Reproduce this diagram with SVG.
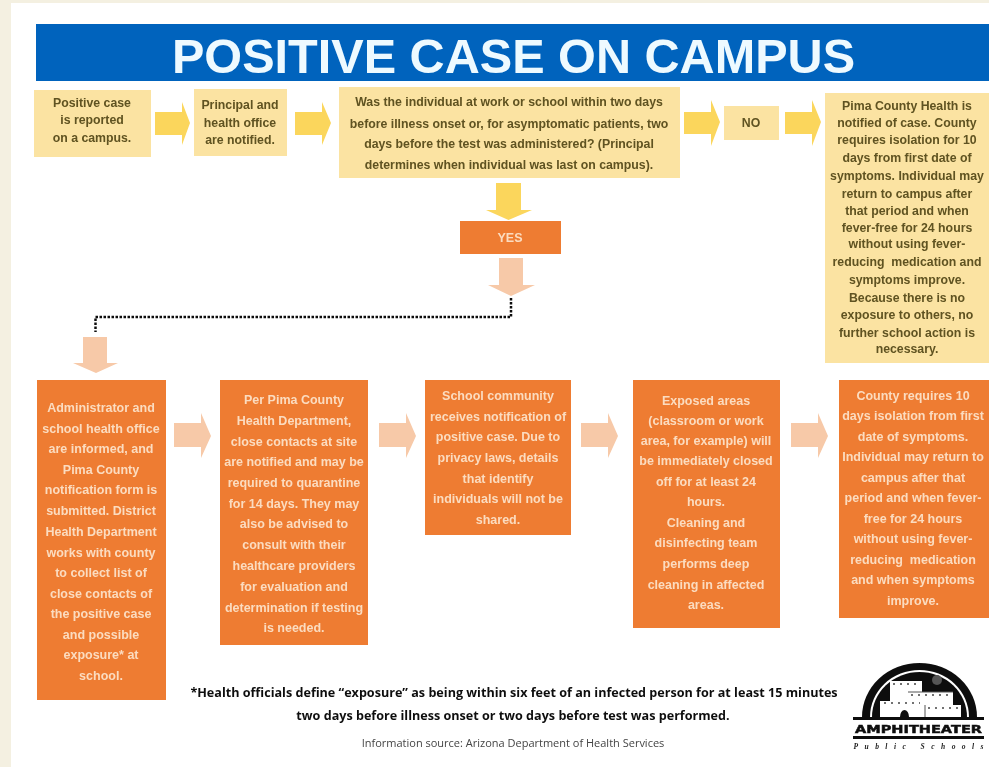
<svg xmlns="http://www.w3.org/2000/svg" width="989" height="767" viewBox="0 0 989 767">
<style>
text{font-family:"Liberation Sans",Arial,sans-serif;font-weight:700;text-anchor:middle}
.y{fill:#fbe3a2}.o{fill:#ee7b30}
.yt{font-size:12.3px;fill:#5f5220}
.ot{font-size:12.5px;fill:#fbdcc0}
.ay{fill:#fbd65c}.ap{fill:#f7c9a8}
.link{fill:none;stroke:#111;stroke-width:2.5;stroke-dasharray:2.5 1.5}
.w{fill:#fff}.k{fill:#111}
</style>
<defs><filter id="soft" filterUnits="userSpaceOnUse" x="-10" y="-10" width="1020" height="790"><feGaussianBlur stdDeviation="0.5"/></filter></defs>
<rect width="989" height="767" fill="#f4f0e1"/>
<g filter="url(#soft)">
<rect x="11" y="3" width="990" height="774" fill="#fff"/>
<g id="title"><rect x="36" y="24" width="965" height="57" fill="#0563bd"/>
<text x="513.500" y="73" font-size="48.6" fill="#eefaff">POSITIVE CASE ON CAMPUS</text></g>
<g id="connectors">
<path class="ay" d="M155 112H182V102L190 123L182 145V135H155Z"/>
<path class="ay" d="M295 112H322V102L331 123L322 145V135H295Z"/>
<path class="ay" d="M684 112H711V100L720 122L711 146V134H684Z"/>
<path class="ay" d="M785 112H812V100L821 122L812 146V134H785Z"/>
<path class="ay" d="M496 183H521V210H532L508.500 220L486 210H496Z"/>
<path class="ap" d="M499 258H523V285H535L511 296L488 285H499Z"/>
<path class="link" d="M511 298V317H95.500V332"/>
<path class="ap" d="M83 337H107V363H118L96 373L73 363H83Z"/>
<path class="ap" d="M174 423H201V413L211 436L201 458V447H174Z"/>
<path class="ap" d="M379 423H406V413L416 436L406 458V447H379Z"/>
<path class="ap" d="M581 423H608V413L618 436L608 458V447H581Z"/>
<path class="ap" d="M791 423H818V413L828 436L818 458V447H791Z"/>
</g>
<g id="n1"><rect class="y" x="34" y="90" width="117" height="67"/>
<text class="yt"><tspan x="92" y="107">Positive case</tspan><tspan x="92" y="124">is reported</tspan><tspan x="92" y="142">on a campus.</tspan></text></g>
<g id="n2"><rect class="y" x="194" y="89" width="93" height="67"/>
<text class="yt"><tspan x="240" y="109">Principal and</tspan><tspan x="240" y="127">health office</tspan><tspan x="240" y="144">are notified.</tspan></text></g>
<g id="n3"><rect class="y" x="339" y="87" width="341" height="91"/>
<text class="yt" font-size="12.4"><tspan x="509" y="106">Was the individual at work or school within two days</tspan><tspan x="509" y="128">before illness onset or, for asymptomatic patients, two</tspan><tspan x="509" y="148">days before the test was administered? (Principal</tspan><tspan x="509" y="169">determines when individual was last on campus).</tspan></text></g>
<g id="n4"><rect class="y" x="724" y="106" width="55" height="34"/>
<text class="yt" x="751" y="127">NO</text></g>
<g id="n5"><rect class="y" x="825" y="93" width="176" height="270"/>
<text class="yt"><tspan x="907" y="110">Pima County Health is</tspan><tspan x="907" y="127">notified of case. County</tspan><tspan x="907" y="144">requires isolation for 10</tspan><tspan x="907" y="162">days from first date of</tspan><tspan x="907" y="180">symptoms. Individual may</tspan><tspan x="907" y="198">return to campus after</tspan><tspan x="907" y="215">that period and when</tspan><tspan x="907" y="232">fever-free for 24 hours</tspan><tspan x="907" y="248">without using fever-</tspan><tspan x="907" y="266">reducing&#160; medication and</tspan><tspan x="907" y="284">symptoms improve.</tspan><tspan x="907" y="302">Because there is no</tspan><tspan x="907" y="319">exposure to others, no</tspan><tspan x="907" y="337">further school action is</tspan><tspan x="907" y="353">necessary.</tspan></text></g>
<g id="yes"><rect class="o" x="460" y="221" width="101" height="33"/>
<text class="ot" x="510" y="242">YES</text></g>
<g id="b1"><rect class="o" x="37" y="380" width="129" height="320"/>
<text class="ot"><tspan x="101" y="412">Administrator and</tspan><tspan x="101" y="433">school health office</tspan><tspan x="101" y="453">are informed, and</tspan><tspan x="101" y="474">Pima County</tspan><tspan x="101" y="494">notification form is</tspan><tspan x="101" y="515">submitted. District</tspan><tspan x="101" y="536">Health Department</tspan><tspan x="101" y="557">works with county</tspan><tspan x="101" y="577">to collect list of</tspan><tspan x="101" y="598">close contacts of</tspan><tspan x="101" y="618">the positive case</tspan><tspan x="101" y="639">and possible</tspan><tspan x="101" y="659">exposure* at</tspan><tspan x="101" y="680">school.</tspan></text></g>
<g id="b2"><rect class="o" x="220" y="380" width="148" height="265"/>
<text class="ot"><tspan x="294" y="404">Per Pima County</tspan><tspan x="294" y="425">Health Department,</tspan><tspan x="294" y="446">close contacts at site</tspan><tspan x="294" y="466">are notified and may be</tspan><tspan x="294" y="487">required to quarantine</tspan><tspan x="294" y="508">for 14 days. They may</tspan><tspan x="294" y="528">also be advised to</tspan><tspan x="294" y="549">consult with their</tspan><tspan x="294" y="570">healthcare providers</tspan><tspan x="294" y="591">for evaluation and</tspan><tspan x="294" y="612">determination if testing</tspan><tspan x="294" y="632">is needed.</tspan></text></g>
<g id="b3"><rect class="o" x="425" y="380" width="146" height="155"/>
<text class="ot"><tspan x="498" y="400">School community</tspan><tspan x="498" y="421">receives notification of</tspan><tspan x="498" y="441">positive case. Due to</tspan><tspan x="498" y="462">privacy laws, details</tspan><tspan x="498" y="483">that identify</tspan><tspan x="498" y="503">individuals will not be</tspan><tspan x="498" y="524">shared.</tspan></text></g>
<g id="b4"><rect class="o" x="633" y="380" width="147" height="248"/>
<text class="ot"><tspan x="706" y="405">Exposed areas</tspan><tspan x="706" y="425">(classroom or work</tspan><tspan x="706" y="445">area, for example) will</tspan><tspan x="706" y="465">be immediately closed</tspan><tspan x="706" y="486">off for at least 24</tspan><tspan x="706" y="506">hours.</tspan><tspan x="706" y="527">Cleaning and</tspan><tspan x="706" y="547">disinfecting team</tspan><tspan x="706" y="568">performs deep</tspan><tspan x="706" y="589">cleaning in affected</tspan><tspan x="706" y="609">areas.</tspan></text></g>
<g id="b5"><rect class="o" x="839" y="380" width="162" height="238"/>
<text class="ot"><tspan x="913" y="400">County requires 10</tspan><tspan x="913" y="420">days isolation from first</tspan><tspan x="913" y="441">date of symptoms.</tspan><tspan x="913" y="461">Individual may return to</tspan><tspan x="913" y="482">campus after that</tspan><tspan x="913" y="502">period and when fever-</tspan><tspan x="913" y="523">free for 24 hours</tspan><tspan x="913" y="543">without using fever-</tspan><tspan x="913" y="564">reducing&#160; medication</tspan><tspan x="913" y="584">and when symptoms</tspan><tspan x="913" y="605">improve.</tspan></text></g>
<g id="note">
<text font-size="12.6" fill="#111" style="font-family:'Open Sans',sans-serif"><tspan x="514" y="697">*Health officials define “exposure” as being within six feet of an infected person for at least 15 minutes</tspan><tspan x="513" y="720">two days before illness onset or two days before test was performed.</tspan></text>
<text x="513" y="747" style="font-family:'Open Sans',sans-serif;font-weight:400" font-size="11" fill="#444">Information source: Arizona Department of Health Services</text></g>
<g id="logo">
<path d="M862 717A57.500 54 0 0 1 977 717H969A49.500 47 0 0 0 870 717Z" class="k"/>
<path d="M872 717A47.500 45 0 0 1 967 717Z" class="k"/>
<path class="w" d="M880 717V701H890V681H922V692H953V705H961V717Z"/>
<path d="M925 705V717M908 692H953" stroke="#555" stroke-width="1" fill="none"/>
<path d="M900 717a4.500 7 0 0 1 9 0Z" class="k"/>
<path d="M893 684h26M884 703h36M911 695h38M928 708h30" stroke="#444" stroke-width="1.500" stroke-dasharray="2 5" fill="none"/>
<circle cx="937" cy="680" r="5" fill="#555"/>
<rect x="853" y="717" width="131" height="3" class="k"/>
<rect x="853" y="736" width="131" height="3" class="k"/>
<text x="918.500" y="733" font-size="11" class="k" stroke="#111" stroke-width="0.5" textLength="127" style="font-family:'DejaVu Sans',sans-serif" lengthAdjust="spacingAndGlyphs">AMPHITHEATER</text>
<text x="918.500" y="749" font-size="7.500" fill="#222" textLength="130" style="font-family:'Liberation Serif',serif;font-style:italic">Public Schools</text>
</g>
</g>
</svg>
